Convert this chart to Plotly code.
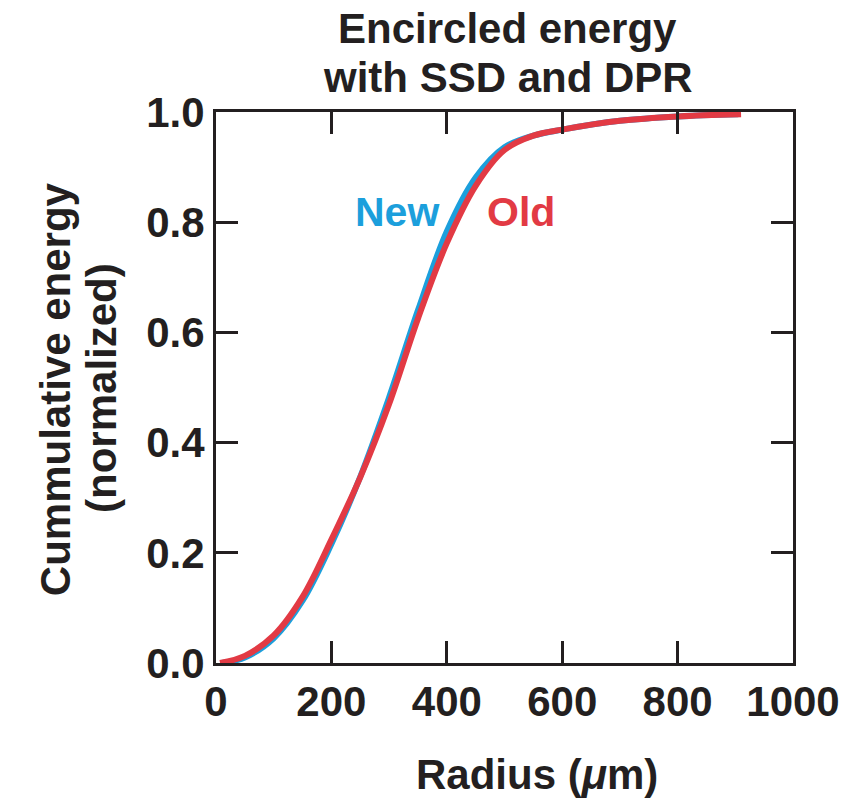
import plotly.graph_objects as go

# Encircled-energy curves (radius in micrometres, normalized cumulative energy)
radius_new = [10, 50, 100, 150, 200, 250, 300, 350, 400, 450, 500, 550, 600,
              700, 800, 905]
energy_new = [0.000, 0.010, 0.045, 0.113, 0.216, 0.338, 0.482, 0.640, 0.783, 0.881,
              0.936, 0.957, 0.968, 0.984, 0.992, 0.996]

radius_old = [7, 50, 100, 150, 200, 250, 300, 350, 400, 450, 500, 550, 600,
              700, 800, 910]
energy_old = [0.000, 0.013, 0.050, 0.120, 0.224, 0.337, 0.470, 0.625, 0.762, 0.866,
              0.931, 0.957, 0.968, 0.984, 0.992, 0.996]

x_ticks = [0, 200, 400, 600, 800, 1000]
y_ticks = [0.0, 0.2, 0.4, 0.6, 0.8, 1.0]
y_tick_text = ["0.0", "0.2", "0.4", "0.6", "0.8", "1.0"]

BLUE = "#1c9fdc"
RED = "#e23a44"
INK = "#231f20"
FONT = "Liberation Sans"

fig = go.Figure()
fig.add_trace(go.Scatter(x=radius_new, y=energy_new, mode="lines",
                         line=dict(color=BLUE, width=6, shape="spline", smoothing=1.0),
                         showlegend=False, hoverinfo="skip"))
fig.add_trace(go.Scatter(x=radius_old, y=energy_old, mode="lines",
                         line=dict(color=RED, width=6, shape="spline", smoothing=1.0),
                         showlegend=False, hoverinfo="skip"))

tick_font = dict(family=FONT, size=42, color=INK, weight="bold")
axis_common = dict(showline=True, linecolor=INK, linewidth=3, mirror="allticks",
                   ticks="inside", ticklen=22, tickwidth=3, tickcolor=INK,
                   showgrid=False, zeroline=False, tickfont=tick_font)

fig.update_xaxes(range=[0, 1000], tickvals=x_ticks, **axis_common)
fig.update_yaxes(range=[0, 1.0], tickvals=y_ticks, ticktext=y_tick_text, **axis_common)

annotations = [
    dict(text="Encircled energy", x=0.506, y=1.152, xref="paper", yref="paper",
         showarrow=False, xanchor="center", yanchor="middle",
         font=dict(family=FONT, size=42, color=INK, weight="bold")),
    dict(text="with SSD and DPR", x=0.506, y=1.063, xref="paper", yref="paper",
         showarrow=False, xanchor="center", yanchor="middle",
         font=dict(family=FONT, size=42, color=INK, weight="bold")),
    dict(text="Radius (<i>\u03bc</i>m)", x=0.556, y=-0.202, xref="paper", yref="paper",
         showarrow=False, xanchor="center", yanchor="middle",
         font=dict(family=FONT, size=42, color=INK, weight="bold")),
    dict(text="Cummulative energy", x=-0.279, y=0.497, xref="paper", yref="paper",
         showarrow=False, xanchor="center", yanchor="middle", textangle=-90,
         font=dict(family=FONT, size=42, color=INK, weight="bold")),
    dict(text="(normalized)", x=-0.1985, y=0.5, xref="paper", yref="paper",
         showarrow=False, xanchor="center", yanchor="middle", textangle=-90,
         font=dict(family=FONT, size=42, color=INK, weight="bold")),
    dict(text="New", x=314, y=0.819, xref="x", yref="y", showarrow=False,
         xanchor="center", yanchor="middle",
         font=dict(family=FONT, size=41, color=BLUE, weight="bold")),
    dict(text="Old", x=528, y=0.819, xref="x", yref="y", showarrow=False,
         xanchor="center", yanchor="middle",
         font=dict(family=FONT, size=41, color=RED, weight="bold")),
]

fig.update_layout(width=852, height=806,
                  margin=dict(l=216, r=55, t=112, b=142.5, pad=0),
                  plot_bgcolor="white", paper_bgcolor="white",
                  annotations=annotations)

fig.write_html("out.html")
